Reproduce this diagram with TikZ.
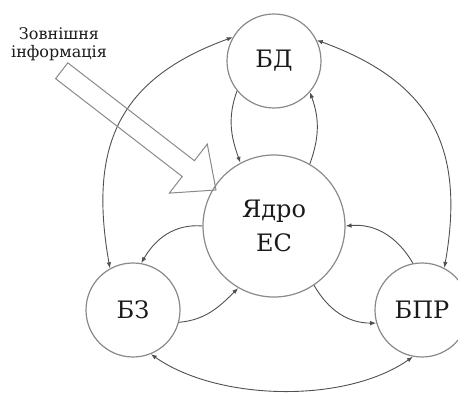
\documentclass[tikz,border=0pt]{standalone}
\usepackage{fontspec}
\setmainfont{DejaVu Serif}
\usetikzlibrary{arrows.meta}
\definecolor{circgray}{HTML}{8A8A8A}
\definecolor{linegray}{HTML}{505050}
\definecolor{textgray}{HTML}{1A1A1A}
\begin{document}
\begin{tikzpicture}[x=1pt,y=1pt,
  blk/.style={circle, draw=circgray, line width=1.2pt, inner sep=0pt, minimum size=94pt,
    font=\fontsize{24}{34}\selectfont, text=textgray, align=center},
  con/.style={draw=linegray, line width=0.9pt, -{Latex[length=6pt,width=4.5pt]}},
  both/.style={con, {Latex[length=6pt,width=4.5pt]}-{Latex[length=6pt,width=4.5pt]}},
  bigarrow/.style={draw=circgray, line width=1pt, line join=miter}]
\useasboundingbox (0,0) rectangle (458,399);

\node[blk] (bd) at (274,338) {БД};
\node[blk, minimum size=142pt] (core) at (274,173) {Ядро\\ЕС};
\node[blk] (bz) at (133,89) {БЗ};
\node[blk] (bpr) at (422,89) {БПР};

\node[font=\fontsize{16}{18}\selectfont, align=center, text=textgray] (info) at (59,355) {Зовнішня\\інформація};

\draw[both] (bd.150) to[out=200,in=100,looseness=1.2] (bz.119);
\draw[both] (bd.26) to[out=-20,in=80,looseness=1.2] (bpr.62);
\draw[both] (bz.-68) to[out=-35,in=-145,looseness=0.8] (bpr.259);
\draw[con] (bd.219) to[out=250,in=110] (core.118);
\draw[con] (core.60) to[out=70,in=-70] (bd.-41);
\draw[con] (core.180) to[out=175,in=60] (bz.80);
\draw[con] (bz.-15) to[out=5,in=225] (core.240);
\draw[con] (bpr.101) to[out=120,in=5] (core.0);
\draw[con] (core.-56) to[out=-60,in=180] (bpr.196);

\begin{scope}[shift={(216,209)}, rotate=-37.7]
  \draw[bigarrow] (0,0) -- (-35,31) -- (-35,10) -- (-195,10) -- (-195,-10) -- (-35,-10) -- (-35,-31) -- cycle;
\end{scope}
\end{tikzpicture}
\end{document}
